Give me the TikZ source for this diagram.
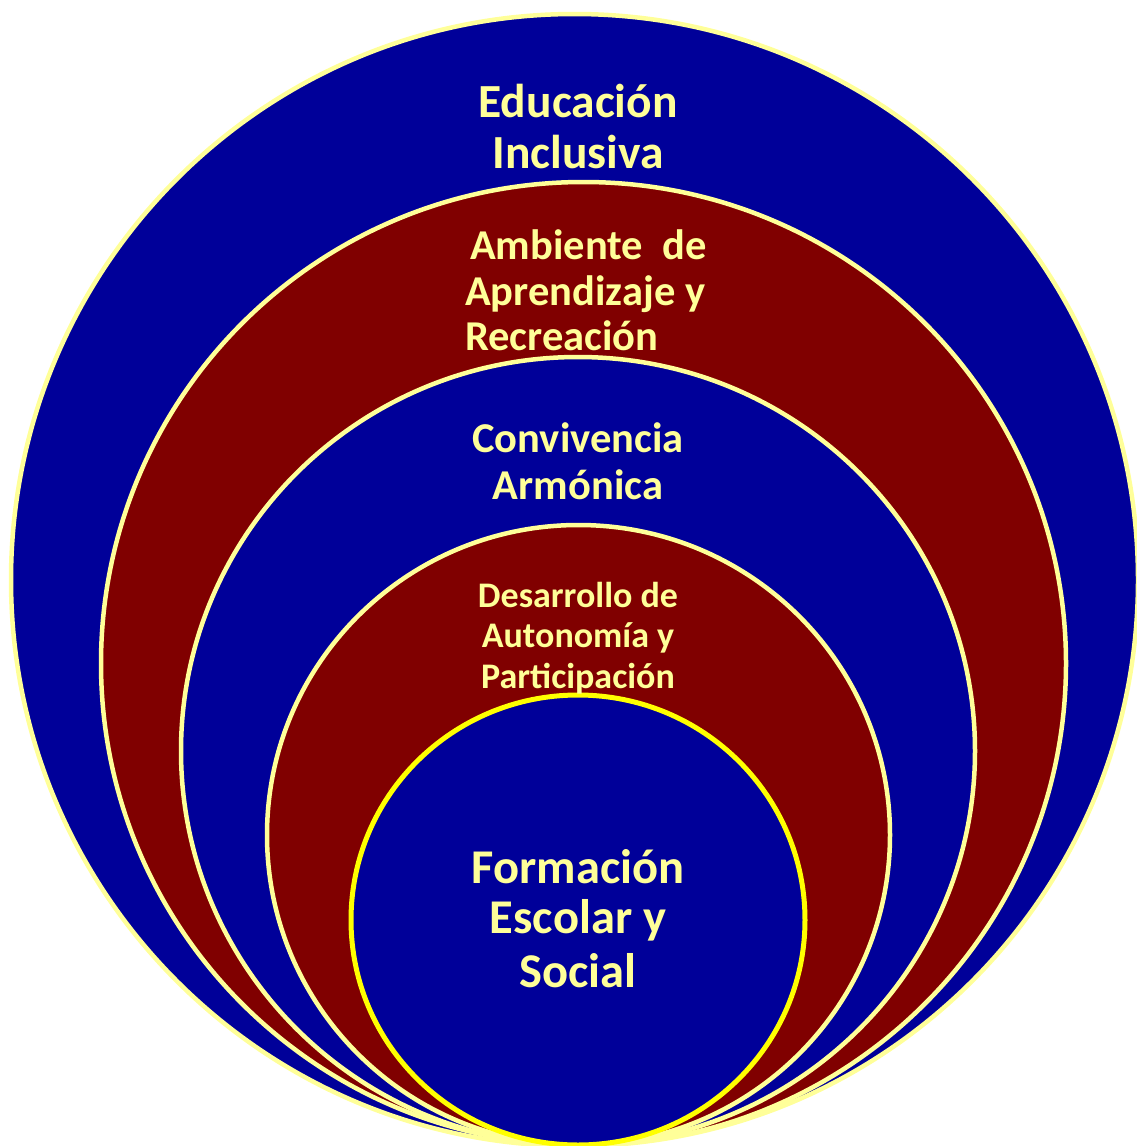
\documentclass[tikz,border=0pt]{standalone}
\usepackage{fontspec}
\setmainfont{Carlito}
\definecolor{dblue}{HTML}{000099}
\definecolor{dred}{HTML}{800000}
\definecolor{lyel}{HTML}{FFFF99}
\definecolor{byel}{HTML}{FFFF00}
\tikzset{
  ring/.style={draw=lyel, line width=4.5pt},
  lbl/.style={text=lyel, anchor=base, inner sep=0pt, font=\bfseries},
  lblw/.style={lbl, anchor=base west},
  fedu/.style={font=\bfseries\fontsize{47.5}{50}\selectfont},
  famb/.style={font=\bfseries\fontsize{42.5}{44}\selectfont},
  fdes/.style={font=\bfseries\fontsize{36}{40}\selectfont},
  fform/.style={font=\bfseries\fontsize{48.5}{52}\selectfont},
}
\begin{document}
\begin{tikzpicture}[x=1pt,y=-1pt]
\useasboundingbox (0,0) rectangle (1137,1146);
% rings (outer to inner)
\draw[ring, fill=dblue] (574.5,580) ellipse [x radius=563.5pt, y radius=566pt];
\draw[ring, fill=dred]  (583.5,663.5) ellipse [x radius=482.5pt, y radius=481.5pt];
\draw[ring, fill=dblue] (578,751) ellipse [x radius=397pt, y radius=394pt];
\draw[ring, fill=dred]  (578.5,835) ellipse [x radius=311.5pt, y radius=310pt];
\draw[ring, draw=byel, line width=5pt, fill=dblue] (578,920) ellipse [x radius=227pt, y radius=225pt];
% labels
\node[lbl, fedu] (ed1) at (578,117) {Educación};
\node[lbl, fedu] (ed2) at (578,168) {Inclusiva};
\node[lblw, famb] (am1) at (470,259) {Ambiente\ \ de};
\node[lblw, famb] (am2) at (465,305) {Aprendizaje y};
\node[lblw, famb] (am3) at (465,350) {Recreación};
\node[lbl, famb] (co1) at (578,452) {Convivencia};
\node[lbl, famb] (co2) at (578,499) {Armónica};
\node[lbl, fdes] (de1) at (578,607) {Desarrollo de};
\node[lbl, fdes] (de2) at (578,647) {Autonomía y};
\node[lbl, fdes] (de3) at (578,688) {Participación};
\node[lbl, fform] (fo1) at (578,883) {Formación};
\node[lbl, fform] (fo2) at (578,933) {Escolar y};
\node[lbl, fform] (fo3) at (578,987) {Social};
\end{tikzpicture}
\end{document}
